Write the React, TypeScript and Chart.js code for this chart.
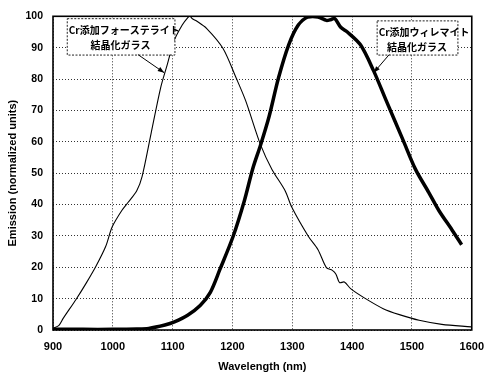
import React, { useEffect, useRef } from "react";
import { Chart, registerables } from "chart.js";

Chart.register(...registerables);

// ---- data ----
const forsteriteWavelength = [
  900, 910, 917, 939, 956, 972, 988, 999, 1015, 1026, 1040, 1049, 1064, 1080, 1091, 1102, 1116, 1125, 1129,
  1133, 1140, 1157, 1184, 1206, 1222, 1247, 1266, 1288, 1299, 1327, 1343, 1357, 1367, 1373, 1379, 1387, 1398,
  1419, 1452, 1479, 1512, 1550, 1599,
];
const forsteriteEmission = [
  0.5, 1.5, 3.7, 9.9, 15.1, 20.4, 26.6, 32.9, 38.1, 40.8, 44.4, 49, 62.7, 77.3, 84.6, 92, 97.2, 99.5, 100,
  99.2, 98.5, 96.1, 89.8, 80.4, 73.1, 59, 51.2, 44.4, 39.2, 29.8, 25.6, 19.9, 19, 17.8, 15.1, 15.3, 13.1, 10.4,
  6.8, 4.9, 3.1, 1.8, 1.0,
];
const willemiteWavelength = [
  900, 950, 1000, 1040, 1060, 1087, 1103, 1125, 1146, 1163, 1179, 1201, 1220, 1234, 1247, 1261, 1277, 1294,
  1310, 1326, 1343, 1357, 1365, 1371, 1381, 1392, 1414, 1436, 1457, 1485, 1506, 1528, 1545, 1567, 1583,
];
const willemiteEmission = [
  0.2, 0.2, 0.2, 0.3, 0.5, 1.6, 2.6, 4.7, 7.8, 12, 19.3, 29.8, 41.3, 51.5, 59, 67.9, 80.4, 90.9, 97.2, 99.8,
  99.8, 98.7, 99.0, 99.3, 96.5, 95, 90.9, 82.6, 73.1, 60.6, 51.2, 43.9, 38.1, 31.9, 27.2,
];
const xTickValues = [900, 1000, 1100, 1200, 1300, 1400, 1500, 1600];
const yTickValues = [0, 10, 20, 30, 40, 50, 60, 70, 80, 90, 100];
const xTitle = "Wavelength (nm)";
const yTitle = "Emission (normalized units)";
const forsteriteLabel = ["Cr添加フォーステライト", "結晶化ガラス"];
const willemiteLabel = ["Cr添加ウィレマイト", "結晶化ガラス"];

// ---- callout placement (data coordinates) ----
const callouts = [
  { lines: forsteriteLabel, x0: 923, x1: 1103, yTop: 99.4, yBottom: 87.8, from: [1042, 87.8], to: [1086, 82.0] },
  { lines: willemiteLabel, x0: 1441, x1: 1576, yTop: 98.7, yBottom: 87.8, from: [1462, 87.8], to: [1436, 82.0] },
];

const framePlugin = {
  id: "frameAndCallouts",
  afterDatasetsDraw(chart: any) {
    const { ctx, chartArea, scales } = chart;
    const xs = scales.x;
    const ys = scales.y;
    ctx.save();
    ctx.strokeStyle = "#000";
    ctx.lineWidth = 1.6;
    ctx.setLineDash([]);
    ctx.strokeRect(chartArea.left, chartArea.top, chartArea.right - chartArea.left, chartArea.bottom - chartArea.top);

    for (const c of callouts) {
      const l = xs.getPixelForValue(c.x0);
      const r = xs.getPixelForValue(c.x1);
      const t = ys.getPixelForValue(c.yTop);
      const b = ys.getPixelForValue(c.yBottom);
      ctx.fillStyle = "#fff";
      ctx.fillRect(l, t, r - l, b - t);
      ctx.strokeStyle = "#222";
      ctx.lineWidth = 1;
      ctx.setLineDash([2, 1.5]);
      ctx.strokeRect(l + 0.5, t + 0.5, r - l, b - t);
      ctx.setLineDash([]);
      ctx.fillStyle = "#000";
      ctx.font = "bold 10px 'Noto Sans CJK JP'";
      ctx.textBaseline = "middle";
      ctx.textAlign = "left";
      ctx.fillText(c.lines[0], l + 2, t + 12);
      ctx.textAlign = "center";
      ctx.fillText(c.lines[1], (l + r) / 2, t + 27);

      const fx = xs.getPixelForValue(c.from[0]);
      const fy = ys.getPixelForValue(c.from[1]);
      const tx = xs.getPixelForValue(c.to[0]);
      const ty = ys.getPixelForValue(c.to[1]);
      ctx.strokeStyle = "#000";
      ctx.lineWidth = 1;
      ctx.beginPath();
      ctx.moveTo(fx, fy);
      ctx.lineTo(tx, ty);
      ctx.stroke();
      const ang = Math.atan2(ty - fy, tx - fx);
      const len = 7;
      const w = 0.35;
      ctx.beginPath();
      ctx.moveTo(tx, ty);
      ctx.lineTo(tx - len * Math.cos(ang - w), ty - len * Math.sin(ang - w));
      ctx.lineTo(tx - len * Math.cos(ang + w), ty - len * Math.sin(ang + w));
      ctx.closePath();
      ctx.fill();
    }
    ctx.restore();
  },
};

export default function App() {
  const ref = useRef<HTMLCanvasElement | null>(null);

  useEffect(() => {
    if (!ref.current) return;
    const toPoints = (xs: number[], ys: number[]) => xs.map((x, i) => ({ x, y: ys[i] }));
    const tickFont = { family: "'Liberation Sans', Arial", size: 11, weight: "bold" };
    const chart = new Chart(ref.current, {
      type: "line",
      data: {
        datasets: [
          {
            label: "Cr-forsterite",
            data: toPoints(forsteriteWavelength, forsteriteEmission),
            borderColor: "#000",
            borderWidth: 1.1,
            pointRadius: 0,
            tension: 0.3,
            fill: false,
          },
          {
            label: "Cr-willemite",
            data: toPoints(willemiteWavelength, willemiteEmission),
            borderColor: "#000",
            borderWidth: 3.5,
            pointRadius: 0,
            tension: 0.3,
            fill: false,
          },
        ],
      },
      options: {
        animation: false,
        responsive: false,
        devicePixelRatio: 1,
        layout: { padding: { left: 0, right: 12, top: 11, bottom: 0 } },
        plugins: { legend: { display: false }, tooltip: { enabled: false } },
        scales: {
          x: {
            type: "linear",
            min: xTickValues[0],
            max: xTickValues[xTickValues.length - 1],
            afterBuildTicks: (s: any) => {
              s.ticks = xTickValues.map((v) => ({ value: v }));
            },
            afterFit: (s: any) => {
              s.height = 44;
            },
            ticks: {
              color: "#000",
              font: tickFont,
              padding: 10,
              maxRotation: 0,
              callback: (v: any) => String(v),
            },
            grid: { color: "#333", lineWidth: 1, drawTicks: false },
            border: { display: false, dash: [1, 2] },
            title: {
              display: true,
              text: xTitle,
              color: "#000",
              font: tickFont,
              padding: { top: 0, bottom: 0 },
            },
          },
          y: {
            type: "linear",
            min: yTickValues[0],
            max: yTickValues[yTickValues.length - 1],
            afterBuildTicks: (s: any) => {
              s.ticks = yTickValues.map((v) => ({ value: v }));
            },
            afterFit: (s: any) => {
              s.width = 53;
            },
            ticks: {
              color: "#000",
              font: { ...tickFont, size: 10.5 },
              padding: 10,
              callback: (v: any) => String(v),
            },
            grid: { color: "#333", lineWidth: 1, drawTicks: false },
            border: { display: false, dash: [1, 2] },
            title: {
              display: true,
              text: yTitle,
              color: "#000",
              font: tickFont,
              padding: { top: 6, bottom: 0 },
            },
          },
        },
      } as any,
      plugins: [framePlugin],
    });
    return () => chart.destroy();
  }, []);

  return (
    <div style={{ position: "fixed", left: 0, top: 0, width: 494, height: 374, background: "#fff" }}>
      <canvas ref={ref} width={494} height={374} style={{ display: "block" }} />
    </div>
  );
}
